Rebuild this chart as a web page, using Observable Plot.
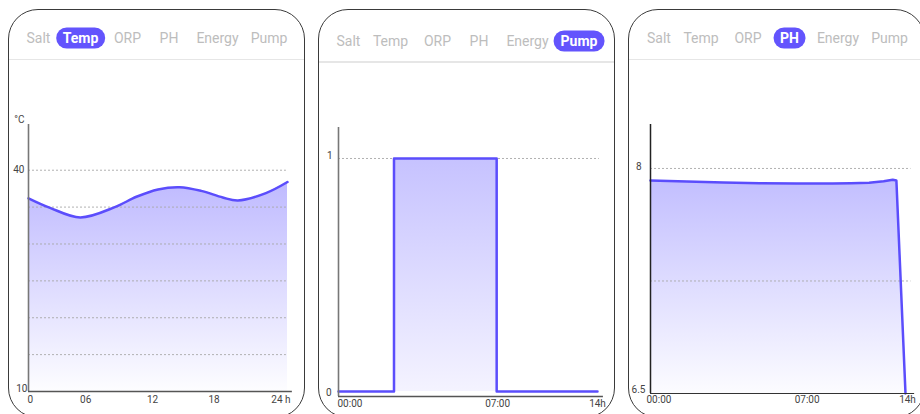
<!DOCTYPE html>
<html><head><meta charset="utf-8">
<script src="https://cdn.jsdelivr.net/npm/d3@7"></script>
<script src="https://cdn.jsdelivr.net/npm/@observablehq/plot@0.6"></script>
<style>
html,body{margin:0;padding:0;background:#fff;width:920px;height:414px;overflow:hidden;font-family:Roboto,"Noto Sans",sans-serif;position:relative;}
.card{position:absolute;top:9px;width:297px;height:409px;border:1.3px solid #3a3a3a;border-radius:30px;box-sizing:border-box;overflow:hidden;}
.tab{position:absolute;transform:translate(-50%,-50%);font-size:14px;color:#bdbdbd;white-space:nowrap;line-height:21px;}
.tab.active{background:#6354fd;color:#fff;font-weight:bold;border-radius:11px;padding:0 7px;}
.sep{position:absolute;left:0;right:0;height:1.6px;background:#e6e6e6;}
</style></head>
<body>
<script>
// ---------- data ----------
const tabNames = ["Salt","Temp","ORP","PH","Energy","Pump"];
const activeTabs = ["Temp","Pump","PH"];

const tempHours  = [0,2,4.8,8,10,12,14,16,18,19.4,22,24];
const tempValues = [36.2,34.9,33.6,35.0,36.4,37.4,37.7,37.2,36.3,35.9,36.9,38.4];
const tempGrid = [15,20,25,30,35,40];
const tempYTicks = [10,40];
const tempUnit = "°C";
const tempXTickAt = [0,5.3,11.5,17.2,24];
const tempXTickLabels = ["0","06","12","18","24 h"];

const pumpHours = [0,3,8.55,14];
const pumpState = [0,1,0,0];
const pumpYTicks = [0,1];
const pumpXTickAt = [0,8.6,14];
const pumpXTickLabels = ["00:00","07:00","14h"];

const phHours  = [0,2,4,6,8,10,11,12,12.8,13.3,13.5,14];
const phValues = [7.92,7.913,7.907,7.902,7.9,7.9,7.902,7.905,7.915,7.925,7.92,6.5];
const phGrid = [6.5,7.25,8];
const phYTicks = [6.5,8];
const phXTickAt = [0,8.6,14];
const phXTickLabels = ["00:00","07:00","14h"];

// ---------- layout ----------
const cardLefts = [7.5, 317.5, 628];
const tabCenters = [30,72,119,160.5,209,260.5];
const tabYs = [27.7,30.7,27.7];
const sepYs = [48.5,51,48.5];

cardLefts.forEach((left,ci)=>{
  const card = document.createElement("div");
  card.className="card"; card.style.left=left+"px";
  tabNames.forEach((name,ti)=>{
    const t=document.createElement("div");
    t.className="tab"+(name===activeTabs[ci]?" active":"");
    t.textContent=name;
    t.style.left=tabCenters[ti]+"px"; t.style.top=tabYs[ci]+"px";
    card.appendChild(t);
  });
  const s=document.createElement("div"); s.className="sep"; s.style.top=sepYs[ci]+"px";
  card.appendChild(s);
  document.body.appendChild(card);
});

function grad(id, top, bottom){
  return () => {
    const ns="http://www.w3.org/2000/svg";
    const defs=document.createElementNS(ns,"defs");
    const lg=document.createElementNS(ns,"linearGradient");
    lg.setAttribute("id",id);
    [["x1",0],["y1",0],["x2",0],["y2",1]].forEach(([k,v])=>lg.setAttribute(k,v));
    [[0,top],[1,bottom]].forEach(([o,c])=>{
      const st=document.createElementNS(ns,"stop");
      st.setAttribute("offset",o); st.setAttribute("stop-color",c);
      lg.appendChild(st);
    });
    defs.appendChild(lg);
    return defs;
  };
}

const tickFont = "'Liberation Sans Narrow', Roboto, sans-serif";
const lineColor = "#5b4dfc";
const gridStyle = {stroke:"#a8a8a8", strokeDasharray:"2,2", strokeWidth:0.9};
const lbl = {fontSize:10, fill:"#444"};
const baseStyle = {background:"transparent", overflow:"visible", fontFamily: tickFont};

function place(svg, left){
  svg.style.position="absolute"; svg.style.left=left+"px"; svg.style.top="62px";
  document.body.appendChild(svg);
}
function xLabels(ticks, labels, yv, dy, firstDx, lastDx, lastAnchor){
  const n = ticks.length;
  const lab = d => labels[ticks.indexOf(d)];
  return [
    Plot.text(ticks,{filter:(d,i)=>i===0, x:d=>d, y:()=>yv, text:lab, textAnchor:"start", dx:firstDx, dy, ...lbl}),
    Plot.text(ticks,{filter:(d,i)=>i>0&&i<n-1, x:d=>d, y:()=>yv, text:lab, dy, ...lbl}),
    Plot.text(ticks,{filter:(d,i)=>i===n-1, x:d=>d, y:()=>yv, text:lab, textAnchor:lastAnchor, dx:lastDx, dy, ...lbl})
  ];
}

// ---------- Temp ----------
const tempData = tempHours.map((h,i)=>({h, v: tempValues[i]}));
const tempTop = 46.2;
place(Plot.plot({
  width:296, height:352, marginLeft:20, marginRight:17, marginTop:62, marginBottom:23,
  x:{domain:[0,24], axis:null}, y:{domain:[10,tempTop], axis:null},
  style: baseStyle,
  marks:[
    grad("gT","#bfbaff","#fdfdff"),
    Plot.areaY(tempData,{x:"h", y1:()=>10, y2:"v", fill:"url(#gT)", curve:"catmull-rom"}),
    Plot.ruleY(tempGrid,{...gridStyle, x2:()=>23.9}),
    Plot.lineY(tempData,{x:"h", y:"v", stroke:lineColor, strokeWidth:2.5, curve:"catmull-rom"}),
    Plot.ruleX([0],{stroke:"#777", strokeWidth:1.6}),
    Plot.ruleY([10],{x1:()=>0, x2:()=>24.45, stroke:"#555", strokeWidth:1.3}),
    Plot.text(tempYTicks,{filter:d=>d===40, x:()=>0, y:d=>d, text:d=>String(d), textAnchor:"end", dx:-4, ...lbl}),
    Plot.text(tempYTicks,{filter:d=>d===10, x:()=>0, y:d=>d, text:d=>String(d), textAnchor:"end", dx:-1, dy:-3, ...lbl}),
    Plot.text([tempUnit],{x:()=>0, y:()=>tempTop, text:d=>d, textAnchor:"end", dx:-4, dy:-5, ...lbl}),
    ...xLabels(tempXTickAt, tempXTickLabels, 10, 8, -1, 3, "end")
  ]
}), 8);

// ---------- Pump ----------
const pumpData = pumpHours.map((h,i)=>({h, v: pumpState[i]}));
const pumpLo = -0.0215, pumpHi = 1.133;
place(Plot.plot({
  width:297, height:352, marginLeft:21, marginRight:17, marginTop:65, marginBottom:18,
  x:{domain:[0,14], axis:null}, y:{domain:[pumpLo,pumpHi], axis:null},
  style: baseStyle,
  marks:[
    grad("gP","#c6c2ff","#f4f3ff"),
    Plot.areaY(pumpData,{x:"h", y1:()=>0, y2:"v", fill:"url(#gP)", curve:"step-after"}),
    Plot.ruleY([1],{...gridStyle, x2:()=>14.1}),
    Plot.lineY(pumpData,{x:"h", y:"v", stroke:lineColor, strokeWidth:2.5, curve:"step-after"}),
    Plot.ruleX([0],{stroke:"#777", strokeWidth:1.6}),
    Plot.ruleY([pumpLo],{x1:()=>0, x2:()=>14.32, stroke:"#555", strokeWidth:1.3}),
    Plot.text(pumpYTicks,{filter:d=>d===1, x:()=>0, y:d=>d, text:d=>String(d), textAnchor:"end", dx:-6, dy:-3, ...lbl}),
    Plot.text(pumpYTicks,{filter:d=>d===0, x:()=>0, y:d=>d, text:d=>String(d), textAnchor:"end", dx:-7, dy:1, ...lbl}),
    ...xLabels(pumpXTickAt, pumpXTickLabels, pumpLo, 7, -1, 0, "middle")
  ]
}), 317);

// ---------- PH ----------
const phData = phHours.map((h,i)=>({h, v: phValues[i]}));
const phTop = 8.293;
place(Plot.plot({
  width:297, height:352, marginLeft:22, marginRight:20, marginTop:62, marginBottom:21,
  x:{domain:[0,14], axis:null}, y:{domain:[6.5,phTop], axis:null},
  style: baseStyle,
  marks:[
    grad("gH","#c2beff","#fcfcff"),
    Plot.areaY(phData,{x:"h", y1:()=>6.5, y2:"v", fill:"url(#gH)"}),
    Plot.ruleY(phGrid,{...gridStyle, x2:()=>14.3}),
    Plot.lineY(phData,{x:"h", y:"v", stroke:lineColor, strokeWidth:2.5}),
    Plot.ruleX([0],{stroke:"#222", strokeWidth:1.5}),
    Plot.ruleY([6.5],{x1:()=>0, x2:()=>14.5, stroke:"#333", strokeWidth:1.2}),
    Plot.text(phYTicks,{filter:d=>d===8, x:()=>0, y:d=>d, text:d=>String(d), textAnchor:"end", dx:-9, dy:-2, ...lbl}),
    Plot.text(phYTicks,{filter:d=>d===6.5, x:()=>0, y:d=>d, text:d=>String(d), textAnchor:"end", dx:-5, dy:-4, ...lbl}),
    ...xLabels(phXTickAt, phXTickLabels, 6.5, 6, -4, 2, "middle")
  ]
}), 628);
</script>
</body></html>
